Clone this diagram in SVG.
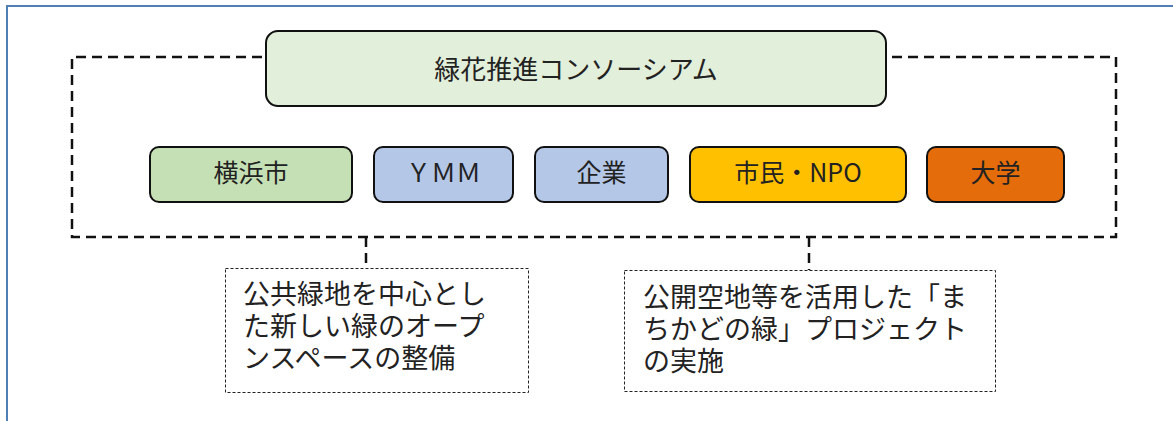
<svg xmlns="http://www.w3.org/2000/svg" width="1173" height="421" viewBox="0 0 1173 421">
<style>
text{font-family:"Noto Sans CJK JP","Noto Sans",sans-serif;fill:#222}
.n{stroke:#111;stroke-width:2}
.t{font-size:25px;text-anchor:middle}
.b{font-size:27px}
.dash{fill:none;stroke:#111;stroke-width:2.5;stroke-dasharray:10,6}
.note{fill:#fff;stroke:#222;stroke-width:1;stroke-dasharray:3,2}
</style>
<rect width="1173" height="421" fill="#fff"/>
<rect x="7" y="6" width="1200" height="450" fill="none" stroke="#4f7fb3" stroke-width="2"/>
<g id="connectors">
<polyline class="dash" points="262,57 72,57 72,237 1116,237 1116,57 891,57"/>
<line class="dash" x1="366" y1="237" x2="366" y2="268"/>
<line class="dash" x1="809" y1="237" x2="809" y2="270"/>
</g>
<g id="consortium">
<rect class="n" x="266" y="31" width="620" height="75" rx="12" fill="#e2efda"/>
<text class="t" x="576" y="79" style="font-size:26px">緑花推進コンソーシアム</text>
</g>
<g id="yokohama">
<rect class="n" x="150" y="147" width="202" height="55" rx="9" fill="#c5e0b4"/>
<text class="t" x="251" y="182">横浜市</text>
</g>
<g id="ymm">
<rect class="n" x="374" y="147" width="139" height="55" rx="9" fill="#b4c7e7"/>
<text class="t" x="443.5" y="182">ＹＭＭ</text>
</g>
<g id="kigyo">
<rect class="n" x="535" y="147" width="133" height="55" rx="9" fill="#b4c7e7"/>
<text class="t" x="601.5" y="182">企業</text>
</g>
<g id="shimin">
<rect class="n" x="690" y="147" width="216" height="55" rx="9" fill="#ffc000"/>
<text class="t" x="798" y="182">市民・NPO</text>
</g>
<g id="daigaku">
<rect class="n" x="927" y="147" width="137" height="55" rx="9" fill="#e46c0a"/>
<text class="t" x="995.5" y="182">大学</text>
</g>
<g id="note1">
<rect class="note" x="225.5" y="268.5" width="303" height="124"/>
<text class="b" x="243" y="304">公共緑地を中心とし</text>
<text class="b" x="243" y="336">た新しい緑のオープ</text>
<text class="b" x="243" y="368">ンスペースの整備</text>
</g>
<g id="note2">
<rect class="note" x="624.5" y="270.5" width="371" height="121"/>
<text class="b" x="643" y="307">公開空地等を活用した「ま</text>
<text class="b" x="643" y="339">ちかどの緑」プロジェクト</text>
<text class="b" x="643" y="371">の実施</text>
</g>
</svg>
